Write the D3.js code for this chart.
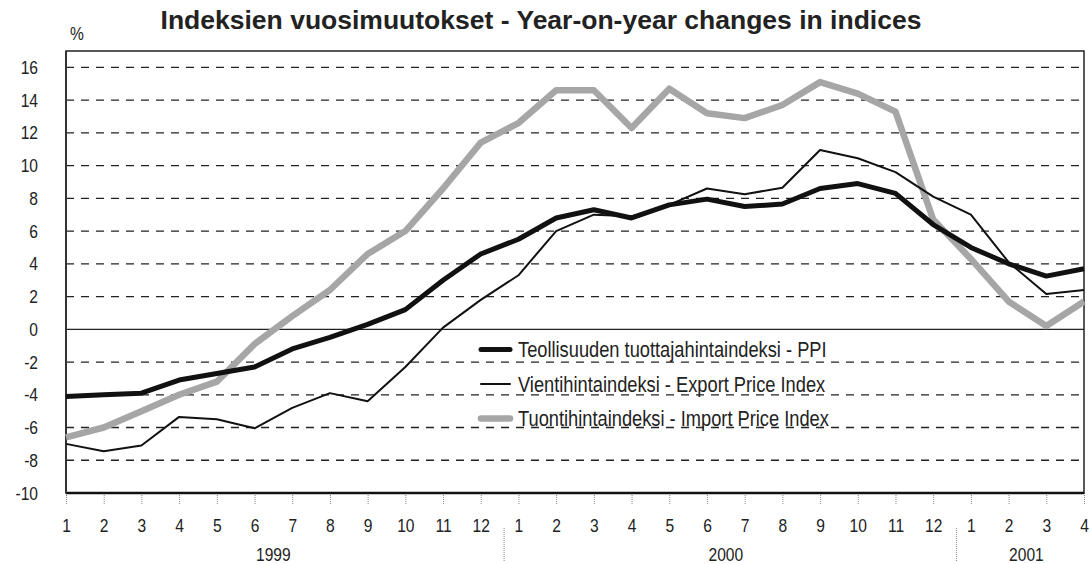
<!DOCTYPE html>
<html>
<head>
<meta charset="utf-8">
<script src="https://cdn.jsdelivr.net/npm/d3@7/dist/d3.min.js"></script>
<style>
  body { margin: 0; background: #fff; }
  svg { display: block; font-family: "Liberation Sans", Arial, sans-serif; }
</style>
</head>
<body>
<div id="chart"></div>
<script>
// Months Jan 1999 - Apr 2001
const months = [1,2,3,4,5,6,7,8,9,10,11,12, 1,2,3,4,5,6,7,8,9,10,11,12, 1,2,3,4];
const years = [
  { label: "1999", from: 0, to: 11 },
  { label: "2000", from: 12, to: 23 },
  { label: "2001", from: 24, to: 27 }
];
const ppi = [-4.1,-4.0,-3.9,-3.1,-2.7,-2.3,-1.2,-0.5,0.3,1.2,3.0,4.6,
             5.5,6.8,7.3,6.8,7.6,7.95,7.5,7.65,8.6,8.9,8.3,6.4,
             5.0,4.0,3.25,3.7];
const exportIdx = [-7.0,-7.45,-7.1,-5.35,-5.5,-6.05,-4.8,-3.9,-4.4,-2.3,0.1,1.8,
                   3.3,6.0,7.0,6.9,7.6,8.6,8.25,8.65,10.95,10.45,9.6,8.1,
                   7.0,4.1,2.15,2.4];
const importIdx = [-6.6,-6.0,-5.0,-4.0,-3.2,-0.9,0.8,2.4,4.6,6.0,8.6,11.4,
                   12.6,14.6,14.6,12.3,14.7,13.2,12.9,13.7,15.1,14.4,13.3,6.7,
                   4.3,1.7,0.2,1.7];
const yTicks = [16,14,12,10,8,6,4,2,0,-2,-4,-6,-8,-10];

const W = 1090, H = 564;
const plotL = 66, plotR = 1084, plotT = 51, plotB = 493;

const svg = d3.select("#chart").append("svg")
  .attr("width", W).attr("height", H);

const x = d3.scaleLinear().domain([0, months.length - 1]).range([plotL, plotR]);
const y = d3.scaleLinear().domain([-10, 17]).range([plotB, plotT]);

// narrow look: squeeze text horizontally (no narrow font installed)
function narrow(sel, k) {
  sel.each(function() {
    const w = this.getComputedTextLength();
    d3.select(this).attr("textLength", w * (k || 0.82)).attr("lengthAdjust", "spacingAndGlyphs");
  });
}

// Title
svg.append("text")
  .attr("x", 541).attr("y", 29)
  .attr("text-anchor", "middle")
  .style("font-size", "26.5px").style("font-weight", "700").style("fill", "#222")
  .text("Indeksien vuosimuutokset - Year-on-year changes in indices");

svg.append("text")
  .attr("x", 70).attr("y", 40)
  .style("font-size", "19px").style("fill", "#222")
  .text("%")
  .call(narrow);

// Grid lines
svg.append("g")
  .selectAll("line")
  .data(yTicks.filter(d => d !== 0 && d !== -10))
  .enter().append("line")
  .attr("x1", plotL).attr("x2", plotR)
  .attr("y1", d => y(d)).attr("y2", d => y(d))
  .attr("stroke", "#222").attr("stroke-width", 1.3)
  .attr("stroke-dasharray", "8,7");

svg.append("line")
  .attr("x1", plotL).attr("x2", plotR)
  .attr("y1", y(0)).attr("y2", y(0))
  .attr("stroke", "#222").attr("stroke-width", 1.3);

// Y axis labels
const yAxis = d3.axisLeft(y).tickValues(yTicks).tickSize(0).tickPadding(28)
  .tickFormat(d => String(d));
const gy = svg.append("g").attr("transform", `translate(${plotL},0)`).call(yAxis);
gy.select(".domain").remove();
gy.selectAll("text")
  .style("font-size", "19px").style("fill", "#222")
  .style("font-family", "'Liberation Sans', Arial, sans-serif")
  .call(narrow);

// X axis
const xAxis = d3.axisBottom(x)
  .tickValues(d3.range(months.length))
  .tickFormat(i => months[i])
  .tickSize(11).tickPadding(15);
const gx = svg.append("g").attr("transform", `translate(0,${plotB})`).call(xAxis);
gx.select(".domain").remove();
gx.selectAll("line").attr("stroke", "#888").attr("stroke-dasharray", "1,1");
gx.selectAll("text")
  .style("font-size", "19px").style("fill", "#222")
  .style("font-family", "'Liberation Sans', Arial, sans-serif")
  .call(narrow);

// Year labels and separators
svg.append("g").selectAll("text")
  .data(years).enter().append("text")
  .attr("x", d => (x(d.from) + x(d.to)) / 2 + (d.label === "2001" ? -1 : 0))
  .attr("y", 561)
  .attr("text-anchor", "middle")
  .style("font-size", "19px").style("fill", "#222")
  .text(d => d.label)
  .call(narrow);

svg.append("g").selectAll("line")
  .data(years.slice(1)).enter().append("line")
  .attr("x1", d => x(d.from - 0.38)).attr("x2", d => x(d.from - 0.38))
  .attr("y1", 528).attr("y2", 562)
  .attr("stroke", "#888").attr("stroke-dasharray", "1,1");

// Plot frame
svg.append("rect")
  .attr("x", plotL).attr("y", plotT)
  .attr("width", plotR - plotL).attr("height", plotB - plotT)
  .attr("fill", "none").attr("stroke", "#222").attr("stroke-width", 1.5);
svg.append("line")
  .attr("x1", plotL).attr("x2", plotR).attr("y1", plotB).attr("y2", plotB)
  .attr("stroke", "#111").attr("stroke-width", 2.5);
svg.append("line")
  .attr("x1", plotL).attr("x2", plotL).attr("y1", plotT).attr("y2", plotB)
  .attr("stroke", "#333").attr("stroke-width", 2);

// Lines
const line = d3.line().x((d, i) => x(i)).y(d => y(d));

svg.append("path").datum(importIdx)
  .attr("d", line).attr("fill", "none")
  .attr("stroke", "#a6a6a6").attr("stroke-width", 6.5)
  .attr("stroke-linejoin", "round");
svg.append("path").datum(exportIdx)
  .attr("d", line).attr("fill", "none")
  .attr("stroke", "#111").attr("stroke-width", 2)
  .attr("stroke-linejoin", "round");
svg.append("path").datum(ppi)
  .attr("d", line).attr("fill", "none")
  .attr("stroke", "#111").attr("stroke-width", 5)
  .attr("stroke-linejoin", "round");

// Legend
const legend = [
  { label: "Teollisuuden tuottajahintaindeksi - PPI", color: "#111", width: 5 },
  { label: "Vientihintaindeksi - Export Price Index", color: "#111", width: 2 },
  { label: "Tuontihintaindeksi - Import Price Index", color: "#a6a6a6", width: 6.5 }
];
const lg = svg.append("g").attr("transform", "translate(481,349.5)");
lg.selectAll("line").data(legend).enter().append("line")
  .attr("x1", 0).attr("x2", 29)
  .attr("y1", (d, i) => i * 34.5).attr("y2", (d, i) => i * 34.5)
  .attr("stroke", d => d.color).attr("stroke-width", d => d.width)
  .attr("stroke-linecap", "round");
lg.selectAll("text").data(legend).enter().append("text")
  .attr("x", 37).attr("y", (d, i) => i * 34.5 + 7.5)
  .style("font-size", "22px").style("fill", "#222")
  .text(d => d.label)
  .call(narrow, 0.83);
</script>
</body>
</html>
